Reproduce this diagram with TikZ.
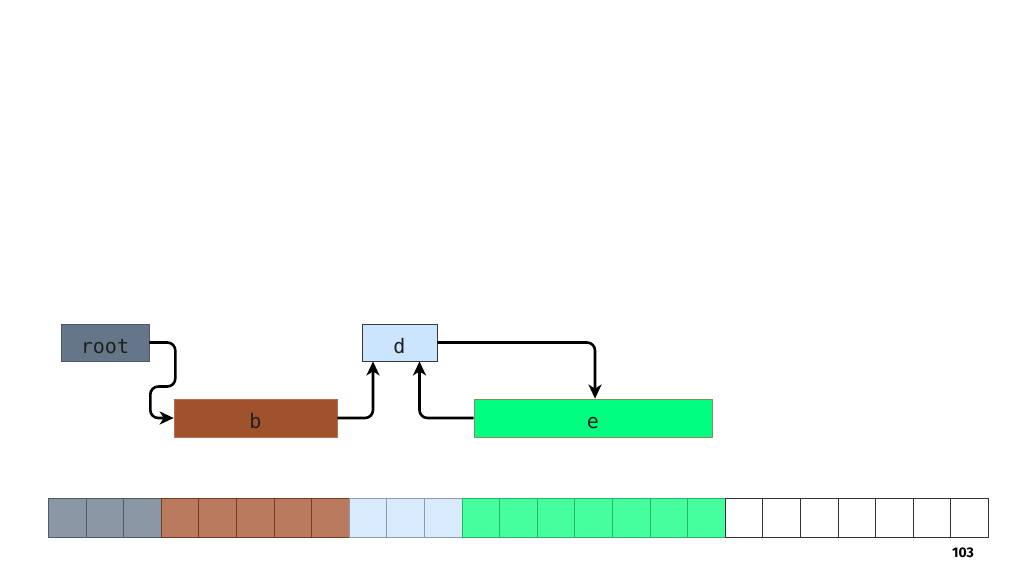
\documentclass[tikz,border=0pt]{standalone}
\usepackage{fontspec}
\setmainfont{DejaVu Sans}
\setmonofont{DejaVu Sans Mono}
\newfontfamily\numfont{Fira Sans}
\usetikzlibrary{arrows.meta,calc}
\definecolor{rootfill}{HTML}{647687}
\definecolor{rootdraw}{HTML}{4A5968}
\definecolor{bfill}{HTML}{A0522D}
\definecolor{bdraw}{HTML}{B5714F}
\definecolor{dfill}{HTML}{CCE5FF}
\definecolor{ddraw}{HTML}{36393D}
\definecolor{efill}{HTML}{00FF80}
\definecolor{edraw}{HTML}{8C8C5A}
\definecolor{cgray}{HTML}{8A98A6}
\definecolor{cgrayd}{HTML}{4E5B68}
\definecolor{cbrown}{HTML}{B97A5E}
\definecolor{cbrownd}{HTML}{7B3A1E}
\definecolor{cblue}{HTML}{D9EAFD}
\definecolor{cblued}{HTML}{8A9BB0}
\definecolor{cgreen}{HTML}{45FF9E}
\definecolor{cgreend}{HTML}{22B865}
\definecolor{cwhited}{HTML}{333333}
\tikzset{
  blk/.style={rectangle, inner sep=0pt, text height=21pt, text depth=0pt, font=\ttfamily\fontsize{20}{20}\selectfont, text=black!88},
  link/.style={draw=black, line width=2.6pt, rounded corners=8pt, -{Stealth[length=14pt,width=13pt,inset=4pt]}},
  cell/.style={rectangle, inner sep=0pt, minimum width=37.6pt, minimum height=39pt, line width=0.8pt, anchor=north west},
}
\begin{document}
\begin{tikzpicture}[x=1pt,y=-1pt]
\useasboundingbox (0,0) rectangle (1024,574);
\fill[white] (0,0) rectangle (1024,574);
% nodes
\node[blk, fill=rootfill, draw=rootdraw, line width=0.6pt, minimum width=88pt, minimum height=37pt] (root) at (105,342.5) {root};
\node[blk, fill=bfill, draw=bdraw, line width=0.6pt, minimum width=163pt, minimum height=38pt] (b) at (255.5,418) {b};
\node[blk, fill=dfill, draw=ddraw, line width=0.8pt, minimum width=75pt, minimum height=37pt] (d) at (399.5,342.5) {d};
\node[blk, fill=efill, draw=edraw, line width=0.8pt, minimum width=238pt, minimum height=38pt] (e) at (593,418) {e};
% connectors
\draw[link] (root.east) -- ++(26,0) -- ++(0,44) -- ++(-25,0) |- (b.west);
\draw[link] (b.east) -| ([xshift=-26.5pt]d.south);
\draw[link] (e.west) -| ([xshift=20pt]d.south);
\draw[link] (d.east) -| ([xshift=2pt]e.north);
% memory array
\foreach \i in {0,1,2} {\node[cell, fill=cgray, draw=cgrayd] (g\i) at ({48+\i*37.6},498) {};}
\foreach \i in {3,...,7} {\node[cell, fill=cbrown, draw=cbrownd] (r\i) at ({48+\i*37.6},498) {};}
\foreach \i in {8,9,10} {\node[cell, fill=cblue, draw=cblued] (u\i) at ({48+\i*37.6},498) {};}
\foreach \i in {11,...,17} {\node[cell, fill=cgreen, draw=cgreend] (n\i) at ({48+\i*37.6},498) {};}
\foreach \i in {18,...,24} {\node[cell, fill=white, draw=cwhited] (w\i) at ({48+\i*37.6},498) {};}
\node[font=\numfont\bfseries\fontsize{14}{14}\selectfont, inner sep=0pt] (pg) at (963,553) {103};
\end{tikzpicture}
\end{document}
